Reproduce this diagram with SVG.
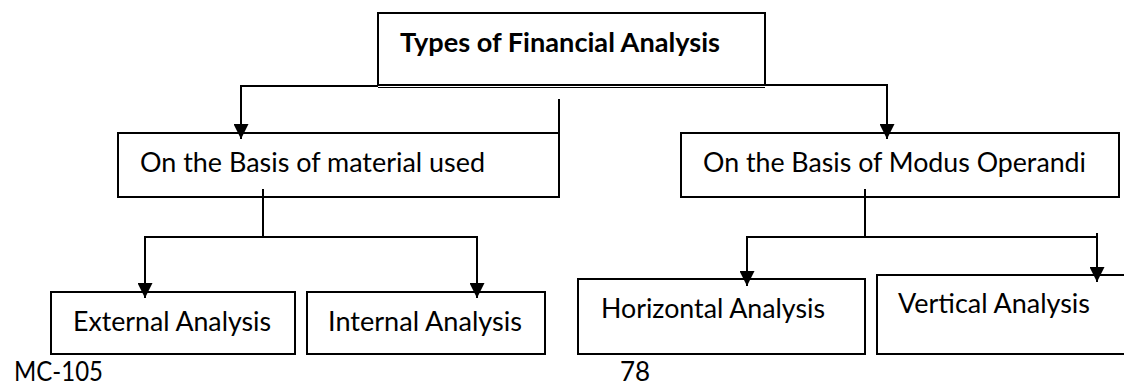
<svg xmlns="http://www.w3.org/2000/svg" width="1124" height="385" viewBox="0 0 1124 385">
<style>
.box{fill:#fff;stroke:#000;stroke-width:2}
.t{font-family:Lato,"Open Sans","Liberation Sans",sans-serif;font-size:26px;fill:#000}
.b{font-weight:bold}
.c{fill:none;stroke:#000;stroke-width:2}
</style>
<defs>
<marker id="ah" markerUnits="userSpaceOnUse" markerWidth="15" markerHeight="15" viewBox="0 0 15 15" refX="15" refY="7.5" orient="auto">
<path d="M0,0 L15,7.5 L0,15 Z" fill="#000"/>
</marker>
</defs>
<rect width="1124" height="385" fill="#fff"/>
<g id="n-root">
<rect class="box" x="378" y="13" width="387" height="72"/>
<line x1="378" y1="87.5" x2="765" y2="87.5" stroke="#000" stroke-width="1.2"/>
<text class="t b" x="400" y="52" textLength="320" lengthAdjust="spacingAndGlyphs">Types of Financial Analysis</text>
</g>
<g id="n-material">
<rect class="box" x="118" y="133" width="441" height="64"/>
<text class="t" x="140" y="172" textLength="345" lengthAdjust="spacingAndGlyphs">On the Basis of material used</text>
</g>
<g id="n-modus">
<rect class="box" x="681" y="133" width="438" height="64"/>
<text class="t" x="703" y="172" textLength="383" lengthAdjust="spacingAndGlyphs">On the Basis of Modus Operandi</text>
</g>
<g id="n-external">
<rect class="box" x="51" y="292" width="244" height="62"/>
<text class="t" x="73" y="331" textLength="198" lengthAdjust="spacingAndGlyphs">External Analysis</text>
</g>
<g id="n-internal">
<rect class="box" x="307" y="292" width="238" height="62"/>
<text class="t" x="328" y="331" textLength="194" lengthAdjust="spacingAndGlyphs">Internal Analysis</text>
</g>
<g id="n-horizontal">
<rect class="box" x="578" y="279" width="287" height="75"/>
<text class="t" x="601" y="318" textLength="224" lengthAdjust="spacingAndGlyphs">Horizontal Analysis</text>
</g>
<g id="n-vertical">
<rect class="box" x="877" y="275" width="260" height="79"/>
<text class="t" x="898" y="313" textLength="192" lengthAdjust="spacingAndGlyphs">Vertical Analysis</text>
</g>
<g id="connectors">
<polyline class="c" points="378,86 241,86 241,139" marker-end="url(#ah)"/>
<polyline class="c" points="765,85 887,85 887,139" marker-end="url(#ah)"/>
<line class="c" x1="559" y1="99" x2="559" y2="133"/>
<line class="c" x1="263" y1="189" x2="263" y2="237"/>
<line class="c" x1="145" y1="237" x2="477" y2="237"/>
<line class="c" x1="145" y1="236" x2="145" y2="298" marker-end="url(#ah)"/>
<line class="c" x1="477" y1="236" x2="477" y2="298" marker-end="url(#ah)"/>
<line class="c" x1="865" y1="189" x2="865" y2="237"/>
<line class="c" x1="747" y1="237" x2="1097" y2="237"/>
<line class="c" x1="747" y1="236" x2="747" y2="286" marker-end="url(#ah)"/>
<line class="c" x1="1097" y1="233" x2="1097" y2="282" marker-end="url(#ah)"/>
</g>
<text class="t" x="14" y="381" textLength="89" lengthAdjust="spacingAndGlyphs">MC-105</text>
<text class="t" x="620" y="381">78</text>
</svg>
